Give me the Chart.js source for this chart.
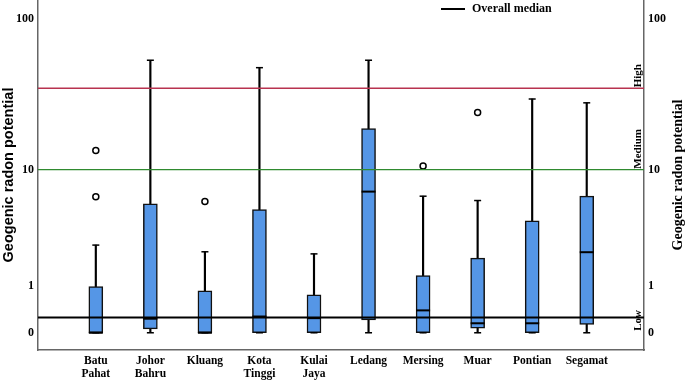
<!DOCTYPE html>
<html>
<head>
<meta charset="utf-8">
<script src="https://cdn.jsdelivr.net/npm/chart.js@4"></script>
<style>
  body { margin: 0; background: #fff; }
  canvas { display: block; }
</style>
</head>
<body>
<canvas id="radon" width="685" height="380"></canvas>
<script>
const categories = ['Batu Pahat', 'Johor Bahru', 'Kluang', 'Kota Tinggi', 'Kulai Jaya', 'Ledang', 'Mersing', 'Muar', 'Pontian', 'Segamat'];
const whiskerLow  = [0, 0, 0, 0, 0, 0, 0, 0, 0, 0];
const q1          = [0, 0.06, 0, 0, 0, 0.21, 0, 0.07, 0, 0.13];
const medians     = [0, 0.23, 0, 0.27, 0.24, 6.97, 0.39, 0.15, 0.15, 2.27];
const q3          = [0.97, 5.66, 0.85, 5.12, 0.75, 19.1, 1.32, 2.0, 4.18, 6.45];
const whiskerHigh = [2.63, 54.0, 2.29, 48.3, 2.19, 54.0, 6.45, 5.99, 30.1, 28.4];
const outlierCat  = [0, 0, 2, 6, 7];
const outlierVal  = [13.6, 6.4, 5.9, 10.6, 24.5];
const highLevel = 35.4;
const mediumLevel = 10;
const overallMedian = 0.25;
const yTicks = [0, 1, 10, 100];

// axis is log10(value + 1)
const t = v => Math.log10(v + 1);
const xMin = -1.06, xMax = 10.05;
const serif = 'Liberation Serif, Times New Roman, serif';

const hline = (v, color, width) => ({
  type: 'line',
  data: [{ x: xMin, y: t(v) }, { x: xMax, y: t(v) }],
  borderColor: color,
  borderWidth: width,
  pointRadius: 0,
  order: 0
});

const noPad = s => { s.paddingTop = 0; s.paddingBottom = 0; s.paddingLeft = 0; s.paddingRight = 0; };

const extras = {
  id: 'extras',
  afterDraw(chart) {
    const ctx = chart.ctx;
    const y = chart.scales.y;
    const area = chart.chartArea;
    ctx.save();
    // legend
    ctx.strokeStyle = '#000';
    ctx.lineWidth = 2;
    ctx.beginPath();
    ctx.moveTo(441, 9);
    ctx.lineTo(465, 9);
    ctx.stroke();
    ctx.fillStyle = '#000';
    ctx.font = 'bold 12px ' + serif;
    ctx.textBaseline = 'middle';
    ctx.textAlign = 'left';
    ctx.fillText('Overall median', 472, 9);

    // level labels
    ctx.font = 'bold 11px ' + serif;
    [['High', highLevel, 1], ['Medium', mediumLevel, 1], ['Low', 0, 2]].forEach(([txt, v, off]) => {
      ctx.save();
      ctx.translate(area.right - 6, y.getPixelForValue(t(v)) - off);
      ctx.rotate(-Math.PI / 2);
      ctx.textAlign = 'left';
      ctx.textBaseline = 'middle';
      ctx.fillText(txt, 0, 0);
      ctx.restore();
    });

    // right title
    ctx.save();
    ctx.font = 'bold 14px ' + serif;
    ctx.translate(678, (area.top + area.bottom) / 2);
    ctx.rotate(-Math.PI / 2);
    ctx.textAlign = 'center';
    ctx.textBaseline = 'middle';
    ctx.fillText('Geogenic radon potential', 0, 0);
    ctx.restore();
    ctx.restore();
  }
};

const yAxis = (position, width) => ({
  type: 'linear',
  position: position,
  min: -0.11,
  max: 2.125,
  afterBuildTicks: s => { s.ticks = yTicks.map(v => ({ value: t(v) })); },
  afterFit: s => { s.width = width; noPad(s); },
  ticks: {
    padding: 4,
    color: '#000',
    font: { family: serif, size: 12, weight: 'bold' },
    callback: v => String(Math.round(Math.pow(10, v) - 1))
  },
  grid: { display: false, drawTicks: false },
  border: { color: '#666', width: 1.5 }
});

const leftAxis = yAxis('left', 38);
leftAxis.title = {
  display: true,
  text: 'Geogenic radon potential',
  color: '#000',
  padding: 0,
  font: { family: 'Liberation Sans, Arial, sans-serif', size: 14.5, weight: 'bold' }
};

new Chart(document.getElementById('radon'), {
  type: 'bar',
  data: {
    datasets: [
      {
        label: 'whiskers',
        data: categories.map((c, i) => ({ x: i, y: [t(whiskerLow[i]), t(whiskerHigh[i])] })),
        backgroundColor: '#000',
        borderWidth: 0,
        barThickness: 1.5,
        grouped: false,
        order: 5
      },
      {
        label: 'boxes',
        data: categories.map((c, i) => ({ x: i, y: [t(q1[i]), t(q3[i])] })),
        backgroundColor: '#5596e6',
        borderColor: '#111',
        borderWidth: 1.5,
        borderSkipped: false,
        barThickness: 14,
        grouped: false,
        order: 4
      },
      {
        type: 'scatter',
        label: 'caps',
        data: categories.flatMap((c, i) => [{ x: i, y: t(whiskerLow[i]) }, { x: i, y: t(whiskerHigh[i]) }]),
        pointStyle: 'line',
        radius: 3.5,
        borderColor: '#000',
        borderWidth: 1.5,
        order: 3
      },
      {
        type: 'scatter',
        label: 'medians',
        data: categories.map((c, i) => ({ x: i, y: t(medians[i]) })),
        pointStyle: 'line',
        radius: 7,
        borderColor: '#000',
        borderWidth: 2,
        order: 2
      },
      {
        type: 'scatter',
        label: 'outliers',
        data: outlierCat.map((c, i) => ({ x: c, y: t(outlierVal[i]) })),
        pointStyle: 'circle',
        radius: 3,
        backgroundColor: '#fff',
        borderColor: '#000',
        borderWidth: 1.5,
        order: 1
      },
      hline(highLevel, '#b8324f', 1.5),
      hline(mediumLevel, '#2f8a2f', 1.2),
      hline(overallMedian, '#000', 2)
    ]
  },
  options: {
    responsive: false,
    animation: false,
    devicePixelRatio: 1,
    layout: { padding: 0, autoPadding: false },
    plugins: { legend: { display: false }, tooltip: { enabled: false } },
    scales: {
      x: {
        type: 'linear',
        offset: false,
        min: xMin,
        max: xMax,
        afterBuildTicks: s => { s.ticks = categories.map((c, i) => ({ value: i })); },
        afterFit: s => { s.height = 30; noPad(s); },
        ticks: {
          autoSkip: false,
          maxRotation: 0,
          padding: 4,
          color: '#000',
          font: { family: serif, size: 11.5, weight: 'bold', lineHeight: 1.15 },
          callback: v => categories[v].split(' ')
        },
        grid: { display: false, drawTicks: false },
        border: { color: '#666', width: 1.5 }
      },
      y: leftAxis,
      y2: yAxis('right', 41)
    }
  },
  plugins: [extras]
});
</script>
</body>
</html>
